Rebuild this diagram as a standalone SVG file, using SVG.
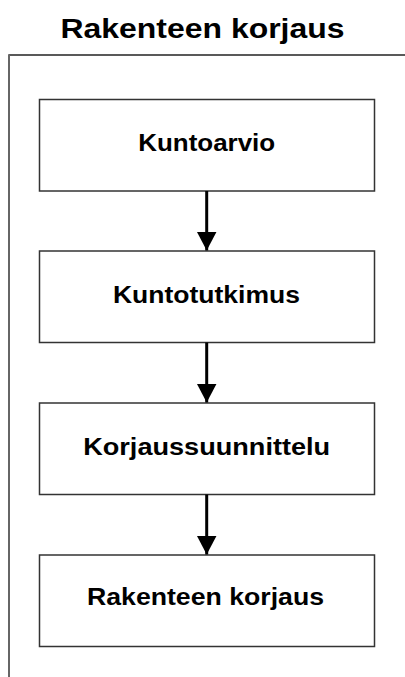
<svg xmlns="http://www.w3.org/2000/svg" width="405" height="677" viewBox="0 0 405 677">
<style>
.box{fill:#fff;stroke:#333;stroke-width:1.5}
.lbl{font-family:"Liberation Sans",Arial,sans-serif;font-weight:bold;font-size:23px;fill:#000;text-anchor:middle}
.title{font-family:"Liberation Sans",Arial,sans-serif;font-weight:bold;font-size:27px;fill:#000;text-anchor:middle}
.conn{stroke:#000;stroke-width:3;fill:none}
</style>
<defs>
<marker id="ah" markerUnits="userSpaceOnUse" markerWidth="20" markerHeight="20" refX="19" refY="10" orient="auto" viewBox="0 0 20 20">
<path d="M0,0 L19,10 L0,20 Z" fill="#000"/>
</marker>
</defs>
<rect width="405" height="677" fill="#fff"/>
<g id="title"><text class="title" x="202.5" y="38" textLength="284" lengthAdjust="spacingAndGlyphs">Rakenteen korjaus</text></g>
<g id="frame">
<line x1="8.5" y1="55" x2="405" y2="55" stroke="#222" stroke-width="1.5"/>
<line x1="9" y1="54.5" x2="9" y2="677" stroke="#666" stroke-width="2"/>
</g>
<g id="n1"><rect class="box" x="39.5" y="99.5" width="335" height="91.5"/><text class="lbl" x="206.7" y="151" textLength="137" lengthAdjust="spacingAndGlyphs">Kuntoarvio</text></g>
<g id="n2"><rect class="box" x="39.5" y="251" width="335" height="91.5"/><text class="lbl" x="206.4" y="303.3" textLength="187" lengthAdjust="spacingAndGlyphs">Kuntotutkimus</text></g>
<g id="n3"><rect class="box" x="39.5" y="403" width="335" height="91.5"/><text class="lbl" x="206.7" y="454.5" textLength="247" lengthAdjust="spacingAndGlyphs">Korjaussuunnittelu</text></g>
<g id="n4"><rect class="box" x="39.5" y="555" width="335" height="91.5"/><text class="lbl" x="205.5" y="604.5" textLength="237" lengthAdjust="spacingAndGlyphs">Rakenteen korjaus</text></g>
<g id="connectors">
<line class="conn" x1="206.7" y1="191" x2="206.7" y2="250.5" marker-end="url(#ah)"/>
<line class="conn" x1="206.7" y1="342.5" x2="206.7" y2="402.5" marker-end="url(#ah)"/>
<line class="conn" x1="206.7" y1="494.5" x2="206.7" y2="554.5" marker-end="url(#ah)"/>
</g>
</svg>
